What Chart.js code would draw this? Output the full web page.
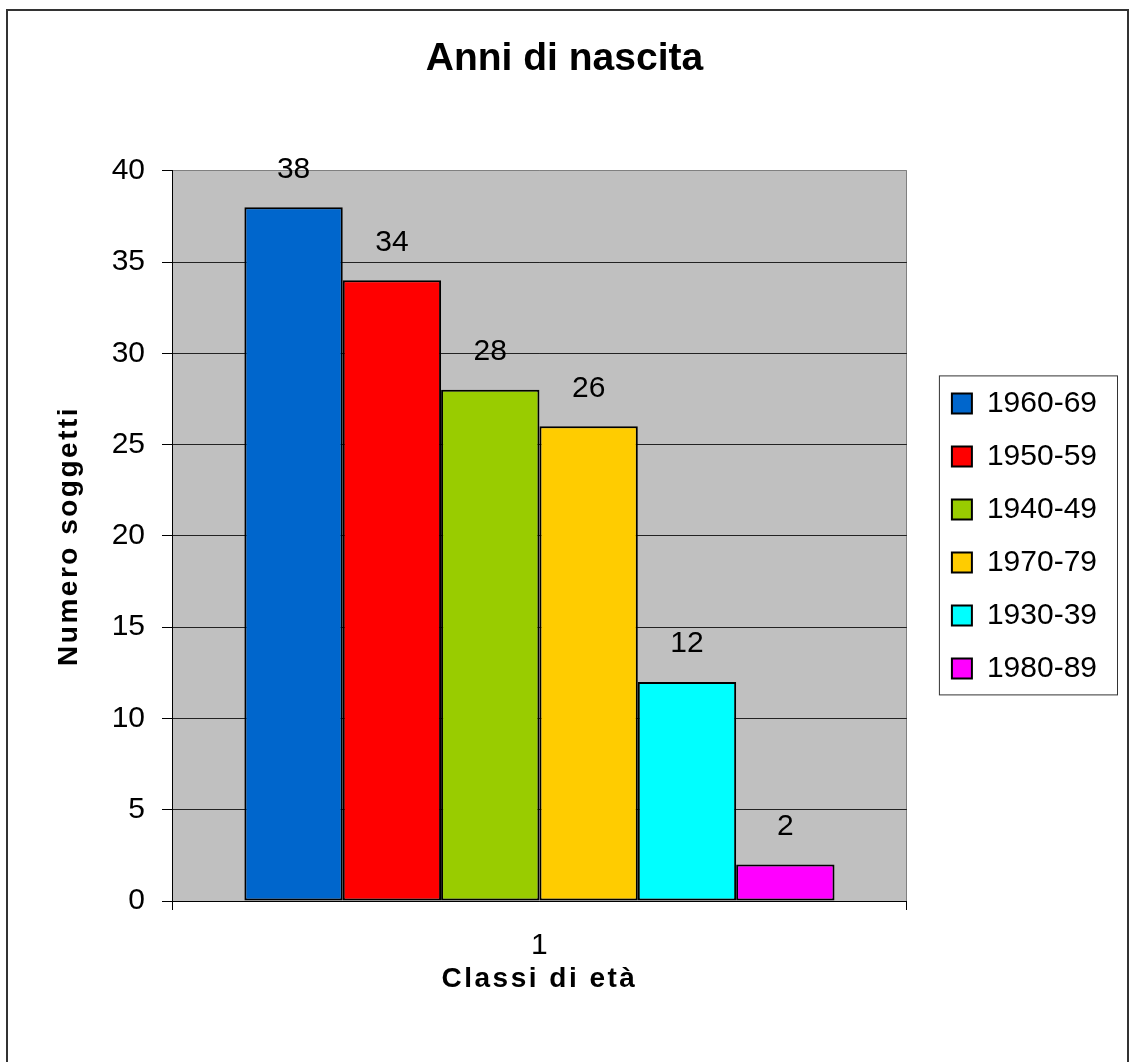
<!DOCTYPE html>
<html>
<head>
<meta charset="utf-8">
<script src="https://cdn.jsdelivr.net/npm/chart.js@4/dist/chart.umd.min.js"></script>
<style>
  html, body { margin: 0; padding: 0; background: #fff; overflow: hidden; }
  #frame { position: absolute; left: 6px; top: 9px; width: 1123px; height: 1100px; box-sizing: border-box; border: 2px solid #333; }
  #chart { position: absolute; left: 0; top: 0; }
</style>
</head>
<body>
<div id="frame"></div>
<canvas id="chart" width="1129" height="1062"></canvas>
<script>
// Data
const categories = ['1'];
const seriesLabels = ['1960-69', '1950-59', '1940-49', '1970-79', '1930-39', '1980-89'];
const seriesValues = [38, 34, 28, 26, 12, 2];
const seriesColors = ['#0066CC', '#FF0000', '#99CC00', '#FFCC00', '#00FFFF', '#FF00FF'];
const yMin = 0;
const yMax = 40;
const yStep = 5;

const FONT = 'Arial, "Liberation Sans", sans-serif';
Chart.defaults.font.family = FONT;
Chart.defaults.color = '#000';

const datasets = seriesLabels.map((label, i) => ({
    label: label,
    data: [seriesValues[i]],
    backgroundColor: seriesColors[i],
    borderColor: '#000',
    borderWidth: 2,
    borderSkipped: false
}));

// grey plot area
const plotBackground = {
    id: 'plotBackground',
    beforeDraw(chart) {
        const {ctx, chartArea: a} = chart;
        ctx.save();
        ctx.fillStyle = '#C0C0C0';
        ctx.fillRect(a.left, a.top, a.right - a.left, a.bottom - a.top);
        ctx.restore();
    }
};

// a bit of letter spacing on the axis titles, like the original
const spacedTitles = {
    id: 'spacedTitles',
    beforeDraw(chart) {
        ['x', 'y'].forEach(id => {
            const s = chart.scales[id];
            if (!s || s._spaced) return;
            const orig = s.drawTitle;
            s.drawTitle = function () {
                this.ctx.save();
                this.ctx.letterSpacing = '2.5px';
                orig.call(this);
                this.ctx.restore();
            };
            s._spaced = true;
        });
    }
};

// value labels above each bar
const valueLabels = {
    id: 'valueLabels',
    afterDatasetsDraw(chart) {
        const ctx = chart.ctx;
        ctx.save();
        ctx.font = '30px ' + FONT;
        ctx.fillStyle = '#000';
        ctx.textAlign = 'center';
        ctx.textBaseline = 'middle';
        chart.data.datasets.forEach((ds, i) => {
            chart.getDatasetMeta(i).data.forEach((bar, j) => {
                ctx.fillText(String(ds.data[j]), bar.x, bar.y - 38);
            });
        });
        ctx.restore();
    }
};

// frame round the legend
const legendFrame = {
    id: 'legendFrame',
    afterDraw(chart) {
        const boxes = chart.legend && chart.legend.legendHitBoxes;
        if (!boxes || !boxes.length) return;
        const first = boxes[0];
        const last = boxes[boxes.length - 1];
        const right = Math.max(...boxes.map(b => b.left + b.width));
        const ctx = chart.ctx;
        ctx.save();
        ctx.strokeStyle = '#333';
        ctx.lineWidth = 1;
        ctx.strokeRect(first.left - 12.5, first.top - 12.5, right - first.left + 33, last.top + last.height - first.top + 24);
        ctx.restore();
    }
};

new Chart(document.getElementById('chart'), {
    type: 'bar',
    data: {
        labels: categories,
        datasets: datasets
    },
    options: {
        responsive: false,
        animation: false,
        layout: {
            padding: { left: 22, right: 22, top: 0, bottom: 0 }
        },
        datasets: {
            bar: {
                categoryPercentage: 0.803,
                barPercentage: 1
            }
        },
        plugins: {
            title: {
                display: true,
                text: 'Anni di nascita',
                font: { size: 39, weight: 'bold' },
                color: '#000',
                padding: { top: 36, bottom: 88 }
            },
            legend: {
                position: 'right',
                fullSize: false,
                labels: {
                    boxWidth: 20,
                    boxHeight: 20,
                    padding: 23,
                    font: { size: 30 },
                    color: '#000'
                }
            },
            tooltip: { enabled: false }
        },
        scales: {
            x: {
                grid: {
                    display: true,
                    offset: true,
                    drawOnChartArea: true,
                    color: '#808080',
                    tickColor: '#000',
                    tickLength: 9
                },
                border: { display: true, color: '#000', width: 1 },
                ticks: {
                    font: { size: 30 },
                    color: '#000',
                    padding: 18
                },
                title: {
                    display: true,
                    text: 'Classi di età',
                    font: { size: 28, weight: 'bold' },
                    color: '#000',
                    padding: { top: 0, bottom: 66 }
                },
                afterFit: s => { s.height = 161; }
            },
            y: {
                min: yMin,
                max: yMax,
                grid: {
                    color: ctx => ctx.tick && ctx.tick.value === yMax ? '#808080' : '#222',
                    tickColor: '#000',
                    tickLength: 10
                },
                border: { display: true, color: '#000', width: 1 },
                ticks: {
                    stepSize: yStep,
                    font: { size: 30 },
                    color: '#000',
                    padding: 17
                },
                title: {
                    display: true,
                    text: 'Numero soggetti',
                    font: { size: 28, weight: 'bold' },
                    color: '#000',
                    padding: { top: 30, bottom: 0 }
                },
                afterFit: s => { s.width = 150; }
            },
            // empty axis, only keeps the gap between plot and legend
            gap: {
                axis: 'y',
                position: 'right',
                display: true,
                grid: { display: false },
                border: { display: false },
                ticks: { display: false },
                afterFit: s => { s.width = 22; }
            }
        }
    },
    plugins: [plotBackground, spacedTitles, valueLabels, legendFrame]
});
</script>
</body>
</html>
